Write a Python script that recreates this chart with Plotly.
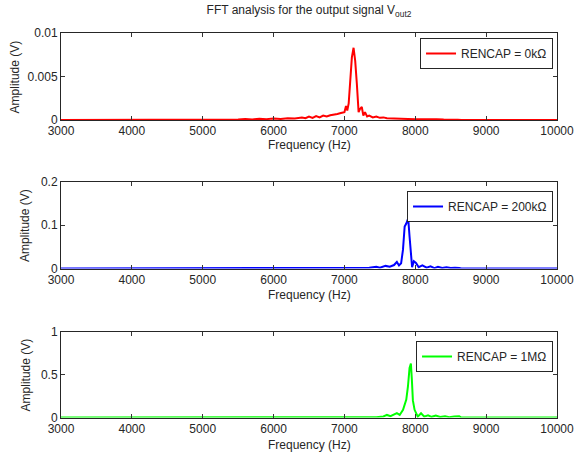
import plotly.graph_objects as go

# ---- data ----
freq_0k = [3000, 5000, 5200, 5300, 5400, 5500, 5600, 5700, 5800, 5900, 6000, 6100, 6200, 6300,
           6400, 6450, 6500, 6550, 6600, 6650, 6700, 6750, 6800, 6850, 6900, 6950, 7000, 7022,
           7040, 7060, 7082, 7105, 7129, 7152, 7175, 7200, 7222, 7245, 7267, 7290, 7320, 7350,
           7400, 7450, 7500, 7550, 7600, 7700, 7800, 7900, 8000, 8100, 8200, 8300, 8400, 8500,
           8600, 8650, 10000]
amp_0k = [0, 0.00002, 0.00008, 0.00003, 0.0001, 0.00005, 0.00012, 0.00006, 0.00015, 0.0001,
          0.00018, 0.00012, 0.0002, 0.00018, 0.00028, 0.0002, 0.0004, 0.00025, 0.00045, 0.0003,
          0.0005, 0.0004, 0.00055, 0.0006, 0.0007, 0.0008, 0.0009, 0.0016, 0.0011, 0.0019,
          0.0049, 0.0072, 0.0083, 0.0068, 0.0042, 0.0009, 0.0013, 0.0015, 0.0005, 0.0009,
          0.0004, 0.0005, 0.0003, 0.0004, 0.00025, 0.0003, 0.0002, 0.0002, 0.00015, 0.00012,
          0.0001, 0.00012, 0.00008, 0.0001, 0.00005, 0.00008, 0.00003, 0, 0]

freq_200k = [3000, 7000, 7100, 7200, 7300, 7350, 7450, 7500, 7580, 7640, 7700, 7740, 7770, 7800,
             7826, 7850, 7873, 7900, 7919, 7942, 7955, 7980, 8010, 8048, 8100, 8160, 8215, 8270,
             8320, 8380, 8440, 8500, 8560, 8620, 8650, 10000]
amp_200k = [0, 0.0005, 0.001, 0.0015, 0.001, 0.002, 0.004, 0.002, 0.006, 0.004, 0.008, 0.015,
            0.007, 0.012, 0.043, 0.097, 0.104, 0.116, 0.074, 0.016, 0.003, 0.017, 0.013, 0.003,
            0.007, 0.002, 0.005, 0.001, 0.004, 0.001, 0.003, 0.001, 0.002, 0.001, 0, 0]

freq_1M = [3000, 7250, 7350, 7450, 7550, 7600, 7650, 7700, 7740, 7780, 7827, 7873, 7896, 7919,
           7938, 7952, 7966, 7990, 8035, 8081, 8127, 8180, 8230, 8290, 8350, 8420, 8480, 8550,
           8620, 8650, 10000]
amp_1M = [0, 0.003, 0.006, 0.004, 0.012, 0.03, 0.015, 0.04, 0.05, 0.03, 0.09, 0.21, 0.36, 0.58,
          0.63, 0.44, 0.2, 0.09, 0.01, 0.05, 0.01, 0.025, 0.008, 0.022, 0.005, 0.015, 0.004,
          0.012, 0.015, 0, 0]

labels = ["RENCAP = 0kΩ", "RENCAP = 200kΩ", "RENCAP = 1MΩ"]
colors = ["#FF0000", "#0000FF", "#00FF00"]
x_ticks = [3000, 4000, 5000, 6000, 7000, 8000, 9000, 10000]
y_ticks = [[0, 0.005, 0.01], [0, 0.1, 0.2], [0, 0.5, 1]]
y_ticktext = [["0", "0.005", "0.01"], ["0", "0.1", "0.2"], ["0", "0.5", "1"]]
y_ranges = [[0, 0.01], [0, 0.2], [0, 1]]
x_title = "Frequency (Hz)"
y_title = "Amplitude (V)"

series = [(freq_0k, amp_0k), (freq_200k, amp_200k), (freq_1M, amp_1M)]

FONT = "Liberation Sans, Arial, sans-serif"
TXT = "#262626"
FS = 12

fig = go.Figure()
for i, (fx, fy) in enumerate(series):
    sfx = "" if i == 0 else str(i + 1)
    fig.add_trace(go.Scatter(
        x=fx, y=fy, mode="lines", name=labels[i],
        line=dict(color=colors[i], width=2),
        xaxis="x" + sfx, yaxis="y" + sfx,
        legend="legend" + sfx, showlegend=True,
    ))

W, H = 586, 453
l, r, t, b = 61, 19, 33, 35
plot_w = W - l - r
plot_h = H - t - b

def py(p):
    return (H - b - p) / plot_h

def px(p):
    return (p - l) / plot_w

domains = [[py(120), py(33)], [py(268.5), py(182)], [py(417.5), py(332)]]
leg_tops = [38, 191, 341]
xtitle_y = [145, 295, 445]
ytitle_x = [14, 25, 25]

annotations = []
for i in range(3):
    annotations.append(dict(
        text=x_title, xref="paper", yref="paper", x=0.5, y=py(xtitle_y[i]),
        xanchor="center", yanchor="middle", showarrow=False,
        font=dict(family=FONT, size=FS, color=TXT)))
    mid = (domains[i][0] + domains[i][1]) / 2
    annotations.append(dict(
        text=y_title, xref="paper", yref="paper", x=px(ytitle_x[i]), y=mid,
        xanchor="center", yanchor="middle", textangle=-90, showarrow=False,
        font=dict(family=FONT, size=FS, color=TXT)))

layout = dict(
    width=W, height=H,
    margin=dict(l=l, r=r, t=t, b=b),
    paper_bgcolor="white", plot_bgcolor="white",
    font=dict(family=FONT, size=FS, color=TXT),
    title=dict(text="FFT analysis for the output signal V<sub>out2</sub>",
               x=0.5, xref="paper", xanchor="center",
               y=1 - 10 / H, yref="container", yanchor="middle",
               font=dict(family=FONT, size=FS, color=TXT)),
    annotations=annotations,
)

for i in range(3):
    sfx = "" if i == 0 else str(i + 1)
    layout["xaxis" + sfx] = dict(
        domain=[0, 1], anchor="y" + sfx, range=[3000, 10000],
        tickvals=x_ticks, ticktext=[str(v) for v in x_ticks],
        ticks="inside", ticklen=4, tickcolor="#333", tickwidth=1,
        showline=True, linecolor="#262626", linewidth=1, mirror="allticks",
        showgrid=False, zeroline=False,
        tickfont=dict(size=FS),
    )
    layout["yaxis" + sfx] = dict(
        domain=domains[i], anchor="x" + sfx, range=y_ranges[i],
        tickvals=y_ticks[i], ticktext=y_ticktext[i],
        ticks="inside", ticklen=4, tickcolor="#333", tickwidth=1,
        showline=True, linecolor="#262626", linewidth=1, mirror="allticks",
        showgrid=False, zeroline=False,
        tickfont=dict(size=FS),
    )
    layout["legend" + sfx] = dict(
        x=0.992, xanchor="right", xref="paper",
        y=py(leg_tops[i]), yanchor="top", yref="paper",
        bgcolor="white", bordercolor="#262626", borderwidth=1,
        font=dict(family=FONT, size=FS, color=TXT),
        itemwidth=30, tracegroupgap=0,
    )

fig.update_layout(**layout)
fig.write_html("out.html", config={"displayModeBar": False},
               post_script="document.body.style.margin='0';")
